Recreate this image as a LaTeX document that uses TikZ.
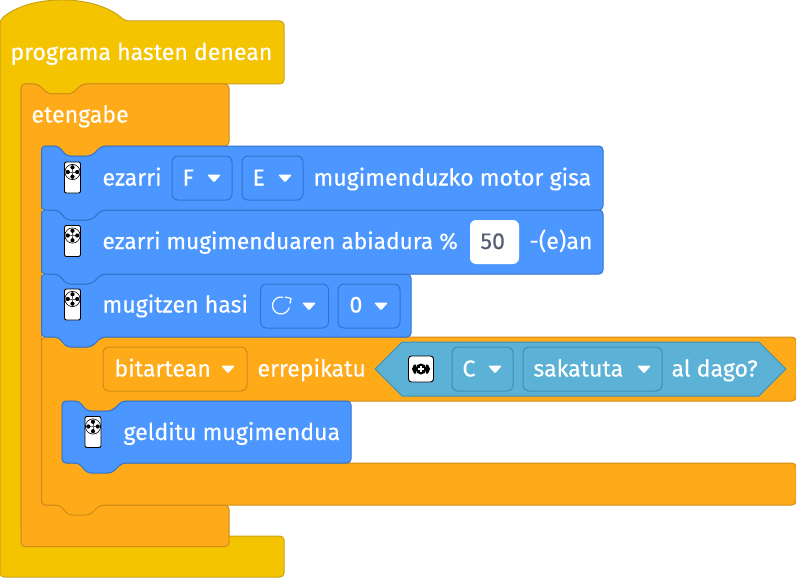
\documentclass[tikz,border=0pt]{standalone}
\usepackage{fontspec}
\setmainfont{Fira Sans}[FakeBold=0.25]
\usetikzlibrary{arrows,positioning}
\definecolor{hatYellow}{HTML}{F4C400}
\definecolor{hatEdge}{HTML}{C9A514}
\definecolor{loopOrange}{HTML}{FFAB19}
\definecolor{loopEdge}{HTML}{CF8B17}
\definecolor{motionBlue}{HTML}{4C97FF}
\definecolor{motionEdge}{HTML}{3373CC}
\definecolor{senseBlue}{HTML}{5CB1D6}
\definecolor{senseEdge}{HTML}{3F8FB3}
\definecolor{inputGrey}{HTML}{575E75}
% stack block: left, right, top, bottom
\newcommand{\stackpath}[4]{(#1,#3) -- ++(17,0) -- ++(8,10) -- ++(25,0) -- ++(10,-10) -- (#2,#3) -- (#2,#4) -- (#1+60,#4) -- ++(-10,10) -- ++(-25,0) -- ++(-8,-10) -- (#1,#4) -- cycle}

\begin{document}
\begin{tikzpicture} [
		x=1pt, y=-1pt, line width=1pt,
		hat/.style      = { draw=hatEdge, fill=hatYellow, rounded corners=4pt },
		loopblock/.style = { draw=loopEdge, fill=loopOrange, rounded corners=4pt },
		motion/.style   = { draw=motionEdge, fill=motionBlue, rounded corners=4pt },
		sense/.style    = { draw=senseEdge, fill=senseBlue },
		word/.style     = { text=white, inner sep=0pt, anchor=base west, xshift=-1pt, font=\fontsize{23.1}{26}\selectfont },
		dropbox/.style  = { rectangle, rounded corners=6pt, minimum height=44pt, inner sep=0pt },
		motiondrop/.style = { dropbox, draw=motionEdge, fill=motionBlue },
		loopdrop/.style = { dropbox, draw=loopEdge, fill=loopOrange },
		sensedrop/.style = { dropbox, draw=senseEdge, fill=senseBlue },
		caret/.pic = { \fill [white, rounded corners=1.2pt] (-7,-4) -- (7,-4) -- (0,4) -- cycle; },
		remote/.pic = {
			\draw [black, fill=white, rounded corners=2pt, line width=0.9pt] (-8,-15.5) rectangle (8,15.5);
			\draw [black, line width=0.6pt] (0,-5.5) circle (7.6);
			\draw [black!60, line width=0.4pt] (-4,-5.5) -- (4,-5.5) (0,-9.5) -- (0,-1.5);
			\foreach \dx/\dy in {0/-10.2, 0/-0.8, -4.7/-5.5, 4.7/-5.5}
				\fill [black] (\dx,\dy) circle (2.1);
		},
	]
	\useasboundingbox (0,0) rectangle (796,578);
	% C-shaped blocks, back to front
	\draw [hat] (0,20) .. controls (30,-6) and (95,-6) .. (125,21) -- (284,21) -- (284,84)
		-- (82,84) -- (72,94) -- (48,94) -- (38,84) -- (21,84) -- (21,536) -- (284,536) -- (284,577) -- (0,577) -- cycle;
	\draw [loopblock] (21,84) -- (38,84) -- (48,94) -- (72,94) -- (82,84) -- (229,84) -- (229,146)
		-- (102,146) -- (92,156) -- (66,156) -- (58,146) -- (41.5,146) -- (41.5,505) -- (229,505) -- (229,546.5) -- (21,546.5) -- cycle;
	\draw [loopblock] (41.5,337) -- (58.5,337) -- (66.5,347) -- (91.5,347) -- (101.5,337) -- (796,337) -- (796,401)
		-- (123,401) -- (111,411) -- (86,411) -- (78,401) -- (62,401) -- (62,463) -- (796,463) -- (796,505)
		-- (100,505) -- (90,515) -- (68,515) -- (60,505) -- (41.5,505) -- cycle;
	% stack blocks
	\draw [motion] \stackpath{62}{351}{401}{463};
	\draw [motion] \stackpath{41.5}{411}{274}{337};
	\draw [motion] \stackpath{41.5}{603}{210}{274};
	\draw [motion] \stackpath{41.5}{603}{146}{210};
	\draw [sense] (375,369) -- (402,342) -- (759,342) -- (786,369) -- (759,396) -- (402,396) -- cycle;
	% dropdowns
	\node [motiondrop, minimum width=60pt] (dropF) at (202,178) {};
	\node [motiondrop, minimum width=61pt] (dropE) at (272.5,178) {};
	\node [rectangle, fill=white, rounded corners=6pt, minimum width=49pt, minimum height=44pt, inner sep=0pt] (speedBox) at (494.5,242) {};
	\node [motiondrop, minimum width=68pt] (dropTurn) at (294.5,306) {};
	\node [motiondrop, minimum width=62pt] (dropZero) at (369,306) {};
	\node [loopdrop, minimum width=144pt] (dropWhile) at (175,369) {};
	\node [sensedrop, minimum width=61pt] (dropC) at (482.5,369) {};
	\node [sensedrop, minimum width=139pt] (dropState) at (592.5,369) {};
	% texts
	\node [word] (startText) at (11,60) {programa hasten denean};
	\node [word] (foreverText) at (32,122.5) {etengabe};
	\node [word] (setText) at (103,185.5) {ezarri};
	\node [word] (fText) at (183,185.5) {F};
	\node [word] (eText) at (253,185.5) {E};
	\node [word] (motorText) at (314,185.5) {mugimenduzko motor gisa};
	\node [word, font=\fontsize{22.7}{26}\selectfont] (speedText) at (103,249) {ezarri mugimenduaren abiadura \%};
	\node [word, text=inputGrey] (fiftyText) at (481,249) {50};
	\node [word] (percentText) at (530,249) {-(e)an};
	\node [word] (startMoveText) at (103,312.5) {mugitzen hasi};
	\node [word] (zeroText) at (350,312.5) {0};
	\node [word] (whileText) at (115,376.5) {bitartean};
	\node [word] (repeatText) at (258,376.5) {errepikatu};
	\node [word] (cText) at (463,376.5) {C};
	\node [word] (stateText) at (534,376.5) {sakatuta};
	\node [word] (questionText) at (672,376.5) {al dago?};
	\node [word] (stopText) at (124,440) {gelditu mugimendua};
	% carets
	\pic at (214,178.5) {caret};
	\pic at (285,178.5) {caret};
	\pic at (309,306.5) {caret};
	\pic at (381,306.5) {caret};
	\pic at (228,369.5) {caret};
	\pic at (495,369.5) {caret};
	\pic at (644,369.5) {caret};
	% icons
	\pic at (72.5,177.5) {remote};
	\pic at (72.5,241) {remote};
	\pic at (72.5,304.5) {remote};
	\pic at (93,432) {remote};
	\draw [white, line width=1.2pt] (281,305.5) ++(15:8.5) arc [start angle=15, end angle=285, radius=8.5];
	\draw [white, line width=1.2pt] (285,297) -- (291,298.5) -- (290,303.5);
	\draw [black, fill=white, rounded corners=3pt, line width=0.9pt] (408.5,356) rectangle (433.5,382);
	\fill [black] (421,369) circle (5.5);
	\draw [white, line width=1.3pt] (418,369) -- (424,369) (421,366) -- (421,372);
	\fill [black] (414,364.5) -- (412,369) -- (414,373.5) -- (416,373.5) -- (416,364.5) -- cycle;
	\fill [black] (428,364.5) -- (430,369) -- (428,373.5) -- (426,373.5) -- (426,364.5) -- cycle;
\end{tikzpicture}
\end{document}
